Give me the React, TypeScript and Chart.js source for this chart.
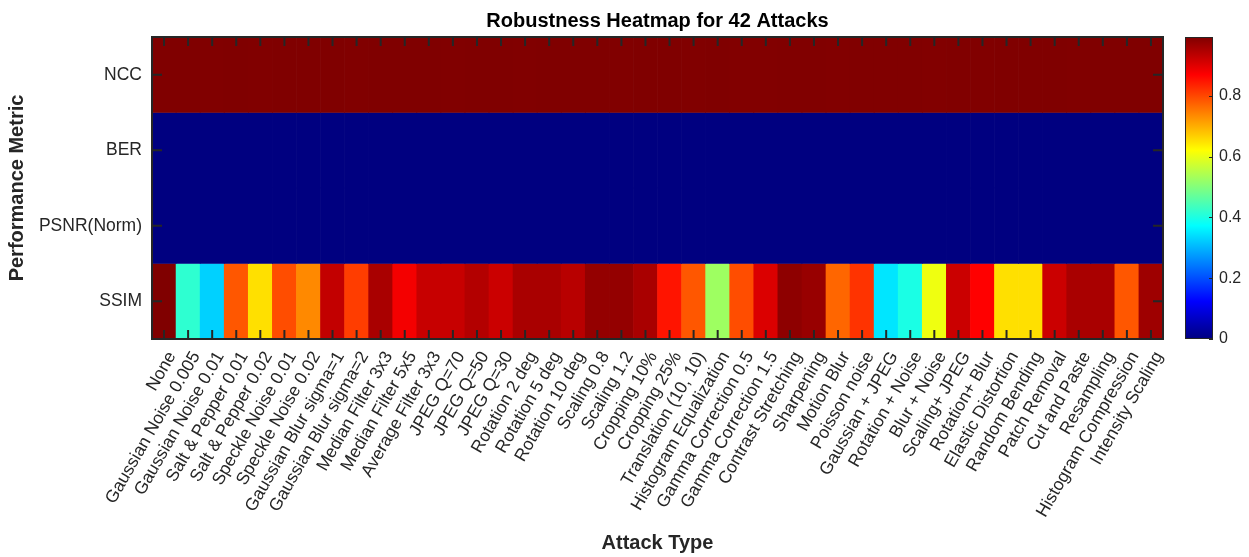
import React, { useEffect, useRef } from 'react';
import { Chart, registerables } from 'chart.js';

Chart.register(...registerables);

const attacks = [
  'None', 'Gaussian Noise 0.005', 'Gaussian Noise 0.01', 'Salt & Pepper 0.01', 'Salt & Pepper 0.02',
  'Speckle Noise 0.01', 'Speckle Noise 0.02', 'Gaussian Blur sigma=1', 'Gaussian Blur sigma=2',
  'Median Filter 3x3', 'Median Filter 5x5', 'Average Filter 3x3', 'JPEG Q=70', 'JPEG Q=50', 'JPEG Q=30',
  'Rotation 2 deg', 'Rotation 5 deg', 'Rotation 10 deg', 'Scaling 0.8', 'Scaling 1.2', 'Cropping 10%',
  'Cropping 25%', 'Translation (10, 10)', 'Histogram Equalization', 'Gamma Correction 0.5',
  'Gamma Correction 1.5', 'Contrast Stretching', 'Sharpening', 'Motion Blur', 'Poisson noise',
  'Gaussian + JPEG', 'Rotation + Noise', 'Blur + Noise', 'Scaling+ JPEG', 'Rotation+ Blur',
  'Elastic Distortion', 'Random Bending', 'Patch Removal', 'Cut and Paste', 'Resampling',
  'Histogram Compression', 'Intensity Scaling',
];

const metrics = ['NCC', 'BER', 'PSNR(Norm)', 'SSIM'];

const nccValues = [
  0.994, 0.994, 0.993, 0.994, 0.993, 0.994, 0.994, 0.994, 0.993, 0.994, 0.994, 0.994, 0.993, 0.994,
  0.994, 0.993, 0.994, 0.994, 0.994, 0.993, 0.994, 0.994, 0.993, 0.994, 0.992, 0.992, 0.993, 0.993,
  0.992, 0.993, 0.993, 0.993, 0.992, 0.993, 0.993, 0.994, 0.994, 0.994, 0.993, 0.994, 0.994, 0.994,
];

const berValues = [
  0, 0, 0, 0, 0, 0, 0, 0, 0, 0, 0, 0, 0, 0, 0, 0, 0, 0, 0, 0, 0,
  0, 0, 0, 0, 0, 0, 0, 0, 0, 0, 0, 0, 0, 0, 0, 0, 0, 0, 0, 0, 0,
];

const psnrValues = [
  0, 0, 0, 0, 0, 0, 0, 0, 0, 0, 0, 0, 0, 0, 0, 0, 0, 0, 0, 0, 0,
  0, 0, 0, 0, 0, 0, 0, 0, 0, 0, 0, 0, 0, 0, 0, 0, 0, 0, 0, 0, 0,
];

const ssimValues = [
  0.994, 0.418, 0.328, 0.785, 0.651, 0.795, 0.736, 0.929, 0.81, 0.954, 0.88, 0.924, 0.924, 0.944,
  0.92, 0.954, 0.954, 0.939, 0.974, 0.974, 0.954, 0.85, 0.785, 0.527, 0.795, 0.905, 0.98, 0.97,
  0.77, 0.82, 0.348, 0.398, 0.606, 0.92, 0.87, 0.651, 0.651, 0.92, 0.954, 0.954, 0.785, 0.964,
];

const metricTickPositions = [0.5, 1.5, 2.5, 3.5];
const colorbarTicks = [0, 0.2, 0.4, 0.6, 0.8];

const FONT = "'Liberation Sans', Arial, Helvetica, sans-serif";
const AXIS_COLOR = '#262626';

function jet(t: number): string {
  const c = (x: number) => Math.max(0, Math.min(1, x));
  const r = c(1.5 - Math.abs(4 * t - 3));
  const g = c(1.5 - Math.abs(4 * t - 2));
  const b = c(1.5 - Math.abs(4 * t - 1));
  return `rgb(${Math.round(r * 255)},${Math.round(g * 255)},${Math.round(b * 255)})`;
}

export default function App() {
  const canvasRef = useRef<HTMLCanvasElement | null>(null);

  useEffect(() => {
    const canvas = canvasRef.current;
    if (!canvas) return;
    const rows = [nccValues, berValues, psnrValues, ssimValues];
    const vmax = Math.max(...rows.flat());
    const vmin = Math.min(...rows.flat());
    const norm = (v: number) => (v - vmin) / (vmax - vmin);

    const datasets = rows.map((vals, i) => ({
      label: metrics[i],
      data: vals.map(() => [3 - i, 4 - i]),
      backgroundColor: vals.map((v) => jet(norm(v))),
      borderWidth: 0,
      barPercentage: 1,
      categoryPercentage: 1,
      grouped: false,
      xAxisID: 'x',
      yAxisID: 'y',
    }));

    const line = (ctx: CanvasRenderingContext2D, x1: number, y1: number, x2: number, y2: number) => {
      ctx.beginPath();
      ctx.moveTo(x1, y1);
      ctx.lineTo(x2, y2);
      ctx.stroke();
    };

    const framePlugin = {
      id: 'frame',
      afterDraw(chart: any) {
        const { ctx, chartArea, scales } = chart;
        const { left, top, right, bottom } = chartArea;
        ctx.save();
        ctx.strokeStyle = AXIS_COLOR;
        ctx.lineWidth = 2;
        attacks.forEach((_, i) => {
          const x = scales.x.getPixelForValue(i);
          line(ctx, x, top, x, top + 9);
          line(ctx, x, bottom, x, bottom - 9);
        });
        metricTickPositions.forEach((v) => {
          const y = scales.y.getPixelForValue(v);
          line(ctx, left, y, left + 10, y);
          line(ctx, right, y, right - 10, y);
        });
        ctx.strokeRect(left, top, right - left, bottom - top);

        // colorbar
        const cbL = right + 22;
        const cbW = 28;
        const y0 = scales.y2.getPixelForValue(vmin);
        const y1 = scales.y2.getPixelForValue(vmax);
        const grad = ctx.createLinearGradient(0, y0, 0, y1);
        [0, 1 / 8, 3 / 8, 5 / 8, 7 / 8, 1].forEach((t) => grad.addColorStop(t, jet(t)));
        ctx.fillStyle = grad;
        ctx.fillRect(cbL, y1, cbW, y0 - y1);
        ctx.lineWidth = 1;
        ctx.strokeRect(cbL + 0.5, y1 + 0.5, cbW - 1, y0 - y1 - 1);
        colorbarTicks.forEach((v) => {
          const y = Math.round(scales.y2.getPixelForValue(v)) + 0.5;
          line(ctx, cbL + cbW - 4, y, cbL + cbW, y);
        });
        ctx.restore();
      },
    };

    const chart = new Chart(canvas, {
      type: 'bar',
      data: { labels: attacks, datasets: datasets as any },
      plugins: [framePlugin],
      options: {
        responsive: false,
        animation: false,
        devicePixelRatio: 1,
        layout: { padding: 0 },
        plugins: {
          legend: { display: false },
          tooltip: { enabled: false },
          title: {
            display: true,
            text: 'Robustness Heatmap for 42 Attacks',
            color: '#000',
            fullSize: false,
            font: { family: FONT, size: 20, weight: 'bold' },
            padding: { top: 9, bottom: 4 },
          },
        },
        scales: {
          x: {
            type: 'category',
            offset: true,
            grid: { display: false, drawTicks: false },
            border: { display: false },
            ticks: {
              autoSkip: false,
              minRotation: 60,
              maxRotation: 60,
              padding: 9,
              labelOffset: 8,
              color: AXIS_COLOR,
              font: { family: FONT, size: 17.5 },
            },
            title: {
              display: true,
              text: 'Attack Type',
              color: AXIS_COLOR,
              font: { family: FONT, size: 20, weight: 'bold' },
              padding: { top: 0, bottom: 2 },
            },
            afterFit: (s: any) => {
              s.height = 218;
            },
          },
          y: {
            type: 'linear',
            min: 0,
            max: 4,
            afterBuildTicks: (s: any) => {
              s.ticks = metricTickPositions.map((v) => ({ value: v }));
            },
            grid: { display: false, drawTicks: false },
            border: { display: false },
            ticks: {
              padding: 10,
              color: AXIS_COLOR,
              font: { family: FONT, size: 17.5 },
              callback: (v: any) => metrics[3 - Math.floor(Number(v))],
            },
            title: {
              display: true,
              text: 'Performance Metric',
              color: AXIS_COLOR,
              font: { family: FONT, size: 20, weight: 'bold' },
              padding: { top: 5, bottom: 0 },
            },
            afterFit: (s: any) => {
              s.width = 152;
            },
          },
          y2: {
            type: 'linear',
            position: 'right',
            min: vmin,
            max: vmax,
            afterBuildTicks: (s: any) => {
              s.ticks = colorbarTicks.map((v) => ({ value: v }));
            },
            grid: {
              display: true,
              drawOnChartArea: false,
              drawTicks: true,
              tickLength: 50,
              color: 'rgba(0,0,0,0)',
            },
            border: { display: false },
            ticks: {
              padding: 6,
              color: AXIS_COLOR,
              font: { family: FONT, size: 16 },
              callback: (v: any) => (Number(v) === 0 ? '0' : Number(v).toFixed(1)),
            },
            afterFit: (s: any) => {
              s.width = 86;
            },
          },
        },
      } as any,
    });

    return () => chart.destroy();
  }, []);

  return (
    <div style={{ position: 'fixed', left: 0, top: 0, width: 1249, height: 557, background: '#fff' }}>
      <canvas ref={canvasRef} width={1249} height={557} />
    </div>
  );
}
